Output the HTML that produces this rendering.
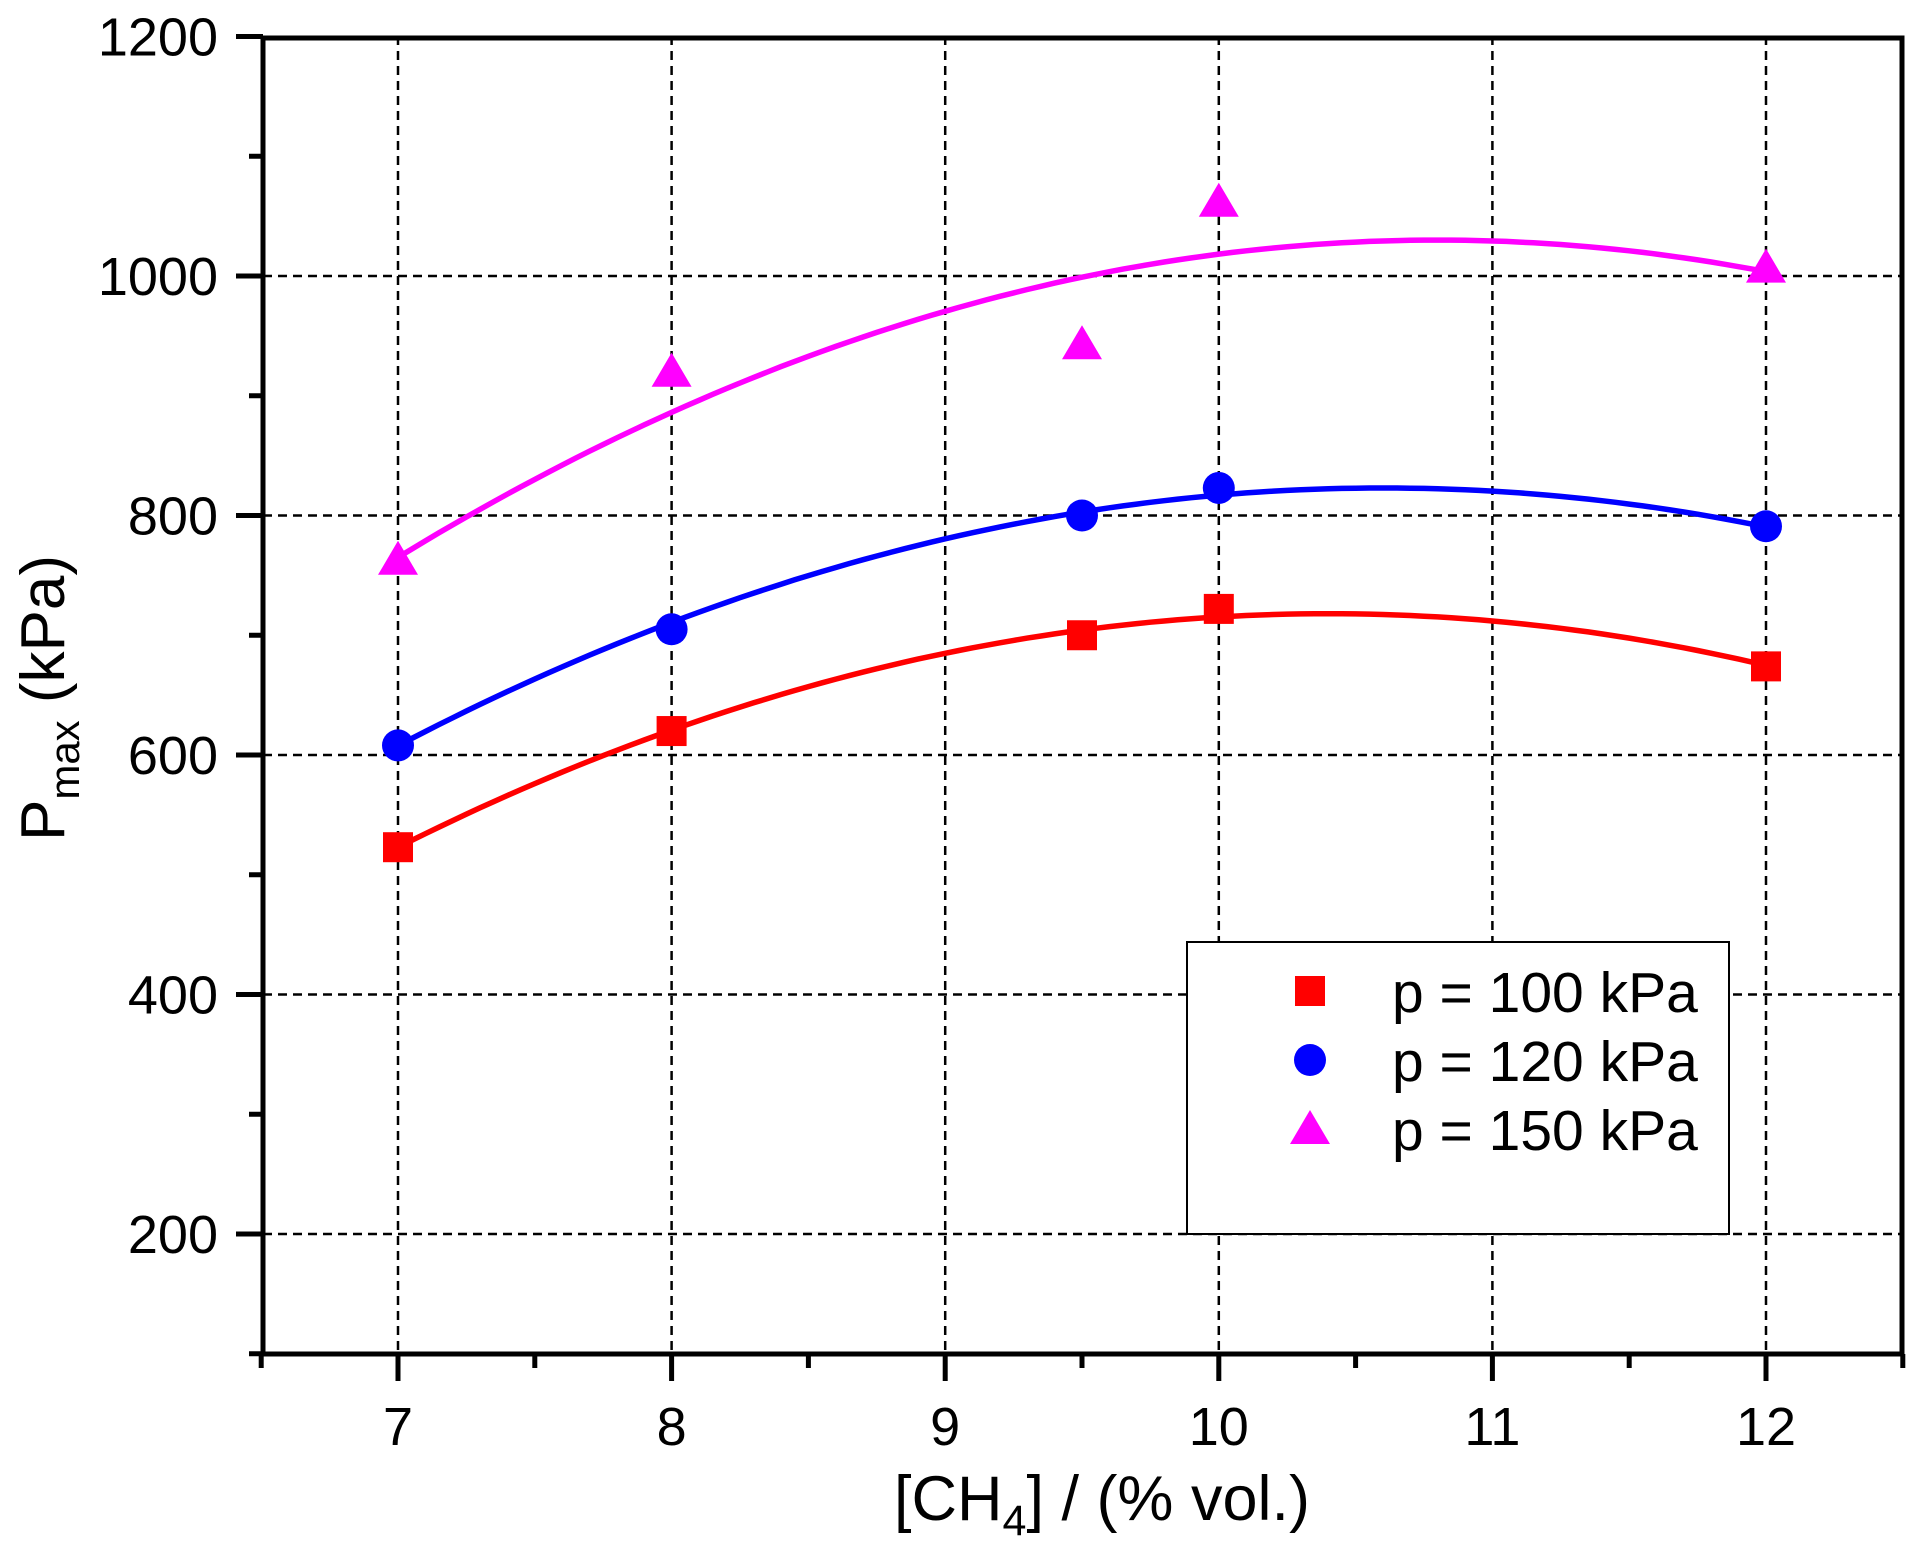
<!DOCTYPE html><html><head><style>body{margin:0;background:#fff}svg{display:block}text{font-family:"Liberation Sans",Arial,sans-serif}</style></head><body>
<svg id="s" width="1919" height="1562" xmlns="http://www.w3.org/2000/svg"></svg>
<script>
const s=document.getElementById('s');let h='';
const X=v=>398+(v-7)*273.6, Y=v=>36.5+(1200-v)*1.1975;
for(let x=7;x<=12;x++)h+=`<line x1="${X(x)}" y1="36" x2="${X(x)}" y2="1354" stroke="#000" stroke-width="2.5" stroke-dasharray="9,6"/>`;
for(let y=200;y<=1100;y+=200)h+=`<line x1="263" y1="${Y(y)}" x2="1902" y2="${Y(y)}" stroke="#000" stroke-width="2.5" stroke-dasharray="9,6"/>`;
for(let x=6.5;x<=12.5;x+=0.5){const maj=Number.isInteger(x);h+=`<line x1="${X(x)}" y1="1354" x2="${X(x)}" y2="${maj?1381:1368}" stroke="#000" stroke-width="5"/>`;if(maj)h+=`<text x="${X(x)}" y="1445" font-size="54" text-anchor="middle">${x}</text>`;}
for(let y=100;y<=1200;y+=100){const maj=y%200==0;h+=`<line x1="263" y1="${Y(y)}" x2="${maj?236:249}" y2="${Y(y)}" stroke="#000" stroke-width="5"/>`;if(maj)h+=`<text x="218" y="${Y(y)+19}" font-size="54" text-anchor="end">${y}</text>`;}
h+=`<rect x="263" y="38" width="1639" height="1316" fill="none" stroke="#000" stroke-width="5"/>`;
function curve(xv,yv,a,c){let p='';for(let x=7;x<=12.001;x+=0.05){p+=(p?'L':'M')+X(x).toFixed(1)+','+Y(a*(x-xv)**2+yv).toFixed(1);}return `<path d="${p}" fill="none" stroke="${c}" stroke-width="5.5"/>`;}
h+=curve(10.4,718,-16.87,'#f00')+curve(10.6,823,-16.6,'#00f')+curve(10.8,1030,-18.35,'#f0f');
const xs=[7,8,9.5,10,12];
const sq=(x,y)=>`<rect x="${x-15}" y="${y-15}" width="30" height="30" fill="#f00"/>`;
const ci=(x,y)=>`<circle cx="${x}" cy="${y}" r="16" fill="#00f"/>`;
const tr=(x,y)=>`<polygon points="${x},${y-19} ${x-20},${y+15} ${x+20},${y+15}" fill="#f0f"/>`;
[523,620,700,722,674].forEach((v,i)=>h+=sq(X(xs[i]),Y(v)));
[608,705,800,823,791].forEach((v,i)=>h+=ci(X(xs[i]),Y(v)));
[763,920,943,1062,1007].forEach((v,i)=>h+=tr(X(xs[i]),Y(v)));
h+=`<rect x="1187" y="942" width="542" height="292" fill="#fff" stroke="#000" stroke-width="2"/>`;
h+=sq(1310,991)+ci(1310,1060)+tr(1310,1129);
['p = 100 kPa','p = 120 kPa','p = 150 kPa'].forEach((t,i)=>h+=`<text x="1392" y="${1012+i*69}" font-size="57">${t}</text>`);
h+=`<text transform="translate(64,698) rotate(-90)" font-size="62" text-anchor="middle">P<tspan font-size="42" dy="15">max</tspan><tspan dy="-15"> (kPa)</tspan></text>`;
h+=`<text x="1102" y="1520" font-size="63" text-anchor="middle">[CH<tspan font-size="43" dy="15">4</tspan><tspan dy="-15">] / (% vol.)</tspan></text>`;
s.innerHTML=h;
</script></body></html>
